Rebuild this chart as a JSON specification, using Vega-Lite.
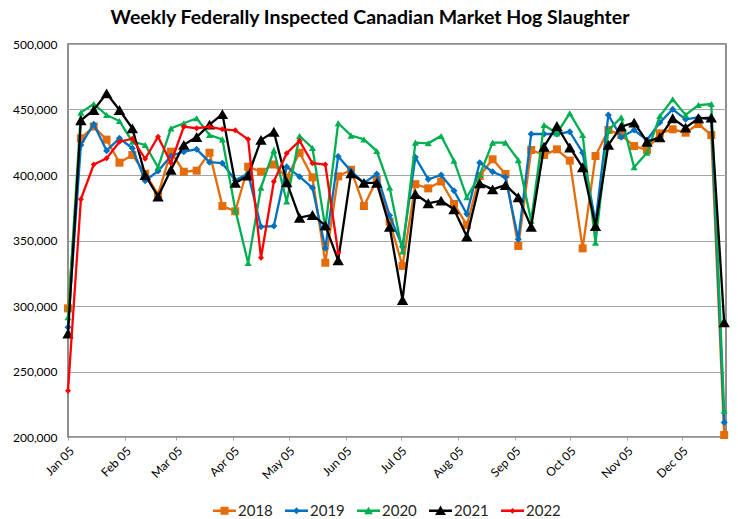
{
  "$schema": "https://vega.github.io/schema/vega-lite/v6.json",
  "width": 658,
  "height": 393,
  "autosize": {"type": "none"},
  "padding": {"left": 68, "top": 44, "right": 12, "bottom": 82},
  "background": "white",
  "title": {"text": "Weekly Federally Inspected Canadian Market Hog Slaughter", "font": "Lato", "fontSize": 19.5, "fontWeight": "bold", "color": "#000000", "anchor": "middle", "offset": 10, "dx": -27},
  "config": {"view": {"stroke": "#6b6b6b", "strokeWidth": 1.5}},
  "data": {"values": [
    {"week":"2019-01-05","year":"2018","hogs":298200},{"week":"2019-01-12","year":"2018","hogs":428000},{"week":"2019-01-19","year":"2018","hogs":437000},{"week":"2019-01-26","year":"2018","hogs":427000},{"week":"2019-02-02","year":"2018","hogs":409400},{"week":"2019-02-09","year":"2018","hogs":415300},{"week":"2019-02-16","year":"2018","hogs":401000},{"week":"2019-02-23","year":"2018","hogs":385000},{"week":"2019-03-02","year":"2018","hogs":417800},{"week":"2019-03-09","year":"2018","hogs":402500},{"week":"2019-03-16","year":"2018","hogs":403300},{"week":"2019-03-23","year":"2018","hogs":417000},{"week":"2019-03-30","year":"2018","hogs":376300},{"week":"2019-04-06","year":"2018","hogs":372300},{"week":"2019-04-13","year":"2018","hogs":406300},{"week":"2019-04-20","year":"2018","hogs":402500},{"week":"2019-04-27","year":"2018","hogs":408000},{"week":"2019-05-04","year":"2018","hogs":398000},{"week":"2019-05-11","year":"2018","hogs":417000},{"week":"2019-05-18","year":"2018","hogs":398200},{"week":"2019-05-25","year":"2018","hogs":333000},{"week":"2019-06-01","year":"2018","hogs":399000},{"week":"2019-06-08","year":"2018","hogs":404000},{"week":"2019-06-15","year":"2018","hogs":376300},{"week":"2019-06-22","year":"2018","hogs":396200},{"week":"2019-06-29","year":"2018","hogs":364400},{"week":"2019-07-06","year":"2018","hogs":330600},{"week":"2019-07-13","year":"2018","hogs":393000},{"week":"2019-07-20","year":"2018","hogs":389800},{"week":"2019-07-27","year":"2018","hogs":395000},{"week":"2019-08-03","year":"2018","hogs":377900},{"week":"2019-08-10","year":"2018","hogs":361800},{"week":"2019-08-17","year":"2018","hogs":399200},{"week":"2019-08-24","year":"2018","hogs":412000},{"week":"2019-08-31","year":"2018","hogs":400800},{"week":"2019-09-07","year":"2018","hogs":345800},{"week":"2019-09-14","year":"2018","hogs":419100},{"week":"2019-09-21","year":"2018","hogs":415300},{"week":"2019-09-28","year":"2018","hogs":419600},{"week":"2019-10-05","year":"2018","hogs":411000},{"week":"2019-10-12","year":"2018","hogs":344000},{"week":"2019-10-19","year":"2018","hogs":414500},{"week":"2019-10-26","year":"2018","hogs":434300},{"week":"2019-11-02","year":"2018","hogs":430500},{"week":"2019-11-09","year":"2018","hogs":422100},{"week":"2019-11-16","year":"2018","hogs":419100},{"week":"2019-11-23","year":"2018","hogs":431800},{"week":"2019-11-30","year":"2018","hogs":434900},{"week":"2019-12-07","year":"2018","hogs":432300},{"week":"2019-12-14","year":"2018","hogs":438900},{"week":"2019-12-21","year":"2018","hogs":430500},{"week":"2019-12-28","year":"2018","hogs":201500},
    {"week":"2019-01-05","year":"2019","hogs":283700},{"week":"2019-01-12","year":"2019","hogs":422900},{"week":"2019-01-19","year":"2019","hogs":438800},{"week":"2019-01-26","year":"2019","hogs":418600},{"week":"2019-02-02","year":"2019","hogs":428000},{"week":"2019-02-09","year":"2019","hogs":420400},{"week":"2019-02-16","year":"2019","hogs":395700},{"week":"2019-02-23","year":"2019","hogs":403000},{"week":"2019-03-02","year":"2019","hogs":414500},{"week":"2019-03-09","year":"2019","hogs":417800},{"week":"2019-03-16","year":"2019","hogs":419600},{"week":"2019-03-23","year":"2019","hogs":409800},{"week":"2019-03-30","year":"2019","hogs":409000},{"week":"2019-04-06","year":"2019","hogs":396000},{"week":"2019-04-13","year":"2019","hogs":401000},{"week":"2019-04-20","year":"2019","hogs":360500},{"week":"2019-04-27","year":"2019","hogs":361000},{"week":"2019-05-04","year":"2019","hogs":406300},{"week":"2019-05-11","year":"2019","hogs":398700},{"week":"2019-05-18","year":"2019","hogs":390200},{"week":"2019-05-25","year":"2019","hogs":344000},{"week":"2019-06-01","year":"2019","hogs":414200},{"week":"2019-06-08","year":"2019","hogs":403000},{"week":"2019-06-15","year":"2019","hogs":394000},{"week":"2019-06-22","year":"2019","hogs":400800},{"week":"2019-06-29","year":"2019","hogs":369000},{"week":"2019-07-06","year":"2019","hogs":345300},{"week":"2019-07-13","year":"2019","hogs":413500},{"week":"2019-07-20","year":"2019","hogs":396700},{"week":"2019-07-27","year":"2019","hogs":400000},{"week":"2019-08-03","year":"2019","hogs":388000},{"week":"2019-08-10","year":"2019","hogs":370200},{"week":"2019-08-17","year":"2019","hogs":409400},{"week":"2019-08-24","year":"2019","hogs":402500},{"week":"2019-08-31","year":"2019","hogs":398200},{"week":"2019-09-07","year":"2019","hogs":350900},{"week":"2019-09-14","year":"2019","hogs":431300},{"week":"2019-09-21","year":"2019","hogs":431300},{"week":"2019-09-28","year":"2019","hogs":431300},{"week":"2019-10-05","year":"2019","hogs":433000},{"week":"2019-10-12","year":"2019","hogs":417000},{"week":"2019-10-19","year":"2019","hogs":364000},{"week":"2019-10-26","year":"2019","hogs":445800},{"week":"2019-11-02","year":"2019","hogs":428800},{"week":"2019-11-09","year":"2019","hogs":434300},{"week":"2019-11-16","year":"2019","hogs":426700},{"week":"2019-11-23","year":"2019","hogs":440000},{"week":"2019-11-30","year":"2019","hogs":450200},{"week":"2019-12-07","year":"2019","hogs":442500},{"week":"2019-12-14","year":"2019","hogs":444000},{"week":"2019-12-21","year":"2019","hogs":442000},{"week":"2019-12-28","year":"2019","hogs":211000},
    {"week":"2019-01-05","year":"2020","hogs":291400},{"week":"2019-01-12","year":"2020","hogs":447600},{"week":"2019-01-19","year":"2020","hogs":454200},{"week":"2019-01-26","year":"2020","hogs":445800},{"week":"2019-02-02","year":"2020","hogs":441200},{"week":"2019-02-09","year":"2020","hogs":425400},{"week":"2019-02-16","year":"2020","hogs":422900},{"week":"2019-02-23","year":"2020","hogs":405900},{"week":"2019-03-02","year":"2020","hogs":435600},{"week":"2019-03-09","year":"2020","hogs":439500},{"week":"2019-03-16","year":"2020","hogs":443300},{"week":"2019-03-23","year":"2020","hogs":430500},{"week":"2019-03-30","year":"2020","hogs":427200},{"week":"2019-04-06","year":"2020","hogs":373600},{"week":"2019-04-13","year":"2020","hogs":332800},{"week":"2019-04-20","year":"2020","hogs":390400},{"week":"2019-04-27","year":"2020","hogs":418800},{"week":"2019-05-04","year":"2020","hogs":379800},{"week":"2019-05-11","year":"2020","hogs":429800},{"week":"2019-05-18","year":"2020","hogs":420600},{"week":"2019-05-25","year":"2020","hogs":359900},{"week":"2019-06-01","year":"2020","hogs":439500},{"week":"2019-06-08","year":"2020","hogs":430100},{"week":"2019-06-15","year":"2020","hogs":427200},{"week":"2019-06-22","year":"2020","hogs":418300},{"week":"2019-06-29","year":"2020","hogs":390500},{"week":"2019-07-06","year":"2020","hogs":341600},{"week":"2019-07-13","year":"2020","hogs":424700},{"week":"2019-07-20","year":"2020","hogs":424200},{"week":"2019-07-27","year":"2020","hogs":429800},{"week":"2019-08-03","year":"2020","hogs":410900},{"week":"2019-08-10","year":"2020","hogs":383000},{"week":"2019-08-17","year":"2020","hogs":400000},{"week":"2019-08-24","year":"2020","hogs":424700},{"week":"2019-08-31","year":"2020","hogs":424700},{"week":"2019-09-07","year":"2020","hogs":411400},{"week":"2019-09-14","year":"2020","hogs":365100},{"week":"2019-09-21","year":"2020","hogs":438200},{"week":"2019-09-28","year":"2020","hogs":431800},{"week":"2019-10-05","year":"2020","hogs":447100},{"week":"2019-10-12","year":"2020","hogs":430500},{"week":"2019-10-19","year":"2020","hogs":348400},{"week":"2019-10-26","year":"2020","hogs":434300},{"week":"2019-11-02","year":"2020","hogs":444000},{"week":"2019-11-09","year":"2020","hogs":405900},{"week":"2019-11-16","year":"2020","hogs":417000},{"week":"2019-11-23","year":"2020","hogs":445000},{"week":"2019-11-30","year":"2020","hogs":457800},{"week":"2019-12-07","year":"2020","hogs":445800},{"week":"2019-12-14","year":"2020","hogs":453400},{"week":"2019-12-21","year":"2020","hogs":454200},{"week":"2019-12-28","year":"2020","hogs":220000},
    {"week":"2019-01-05","year":"2021","hogs":279000},{"week":"2019-01-12","year":"2021","hogs":441800},{"week":"2019-01-19","year":"2021","hogs":449600},{"week":"2019-01-26","year":"2021","hogs":462300},{"week":"2019-02-02","year":"2021","hogs":449600},{"week":"2019-02-09","year":"2021","hogs":435600},{"week":"2019-02-16","year":"2021","hogs":400000},{"week":"2019-02-23","year":"2021","hogs":383500},{"week":"2019-03-02","year":"2021","hogs":404000},{"week":"2019-03-09","year":"2021","hogs":423000},{"week":"2019-03-16","year":"2021","hogs":429000},{"week":"2019-03-23","year":"2021","hogs":438500},{"week":"2019-03-30","year":"2021","hogs":446500},{"week":"2019-04-06","year":"2021","hogs":394000},{"week":"2019-04-13","year":"2021","hogs":399500},{"week":"2019-04-20","year":"2021","hogs":426800},{"week":"2019-04-27","year":"2021","hogs":433000},{"week":"2019-05-04","year":"2021","hogs":394500},{"week":"2019-05-11","year":"2021","hogs":367400},{"week":"2019-05-18","year":"2021","hogs":369500},{"week":"2019-05-25","year":"2021","hogs":361500},{"week":"2019-06-01","year":"2021","hogs":334800},{"week":"2019-06-08","year":"2021","hogs":401200},{"week":"2019-06-15","year":"2021","hogs":394000},{"week":"2019-06-22","year":"2021","hogs":394000},{"week":"2019-06-29","year":"2021","hogs":360500},{"week":"2019-07-06","year":"2021","hogs":304600},{"week":"2019-07-13","year":"2021","hogs":385500},{"week":"2019-07-20","year":"2021","hogs":378400},{"week":"2019-07-27","year":"2021","hogs":380400},{"week":"2019-08-03","year":"2021","hogs":373800},{"week":"2019-08-10","year":"2021","hogs":353000},{"week":"2019-08-17","year":"2021","hogs":393600},{"week":"2019-08-24","year":"2021","hogs":389000},{"week":"2019-08-31","year":"2021","hogs":392400},{"week":"2019-09-07","year":"2021","hogs":383000},{"week":"2019-09-14","year":"2021","hogs":360500},{"week":"2019-09-21","year":"2021","hogs":421600},{"week":"2019-09-28","year":"2021","hogs":437400},{"week":"2019-10-05","year":"2021","hogs":421000},{"week":"2019-10-12","year":"2021","hogs":405900},{"week":"2019-10-19","year":"2021","hogs":361000},{"week":"2019-10-26","year":"2021","hogs":423000},{"week":"2019-11-02","year":"2021","hogs":436900},{"week":"2019-11-09","year":"2021","hogs":440000},{"week":"2019-11-16","year":"2021","hogs":425400},{"week":"2019-11-23","year":"2021","hogs":428800},{"week":"2019-11-30","year":"2021","hogs":443300},{"week":"2019-12-07","year":"2021","hogs":436200},{"week":"2019-12-14","year":"2021","hogs":443300},{"week":"2019-12-21","year":"2021","hogs":443800},{"week":"2019-12-28","year":"2021","hogs":287600},
    {"week":"2019-01-05","year":"2022","hogs":235400},{"week":"2019-01-12","year":"2022","hogs":381400},{"week":"2019-01-19","year":"2022","hogs":408000},{"week":"2019-01-26","year":"2022","hogs":412700},{"week":"2019-02-02","year":"2022","hogs":425400},{"week":"2019-02-09","year":"2022","hogs":427700},{"week":"2019-02-16","year":"2022","hogs":412400},{"week":"2019-02-23","year":"2022","hogs":429200},{"week":"2019-03-02","year":"2022","hogs":409200},{"week":"2019-03-09","year":"2022","hogs":436900},{"week":"2019-03-16","year":"2022","hogs":435700},{"week":"2019-03-23","year":"2022","hogs":436900},{"week":"2019-03-30","year":"2022","hogs":434900},{"week":"2019-04-06","year":"2022","hogs":434100},{"week":"2019-04-13","year":"2022","hogs":427200},{"week":"2019-04-20","year":"2022","hogs":336800},{"week":"2019-04-27","year":"2022","hogs":395000},{"week":"2019-05-04","year":"2022","hogs":416600},{"week":"2019-05-11","year":"2022","hogs":426100},{"week":"2019-05-18","year":"2022","hogs":409000},{"week":"2019-05-25","year":"2022","hogs":408000},{"week":"2019-06-01","year":"2022","hogs":340700}
  ]},
  "encoding": {
    "x": {
      "field": "week", "type": "temporal",
      "scale": {"type": "utc", "domain": [{"year": 2019, "month": 1, "date": 5, "utc": true}, {"year": 2019, "month": 12, "date": 29, "utc": true}]},
      "axis": {
        "title": null, "labelExpr": "utcFormat(datum.value, '%b %d')", "labelAngle": -45,
        "values": [
          {"year": 2019, "month": 1, "date": 5, "utc": true}, {"year": 2019, "month": 2, "date": 5, "utc": true},
          {"year": 2019, "month": 3, "date": 5, "utc": true}, {"year": 2019, "month": 4, "date": 5, "utc": true},
          {"year": 2019, "month": 5, "date": 5, "utc": true}, {"year": 2019, "month": 6, "date": 5, "utc": true},
          {"year": 2019, "month": 7, "date": 5, "utc": true}, {"year": 2019, "month": 8, "date": 5, "utc": true},
          {"year": 2019, "month": 9, "date": 5, "utc": true}, {"year": 2019, "month": 10, "date": 5, "utc": true},
          {"year": 2019, "month": 11, "date": 5, "utc": true}, {"year": 2019, "month": 12, "date": 5, "utc": true}
        ],
        "grid": false, "domain": false, "ticks": true, "tickSize": 3, "tickColor": "#a0a0a0",
        "labelFont": "Lato", "labelFontSize": 12, "labelColor": "#000000", "labelPadding": 5, "labelOverlap": false, "labelFlush": false
      }
    },
    "y": {
      "field": "hogs", "type": "quantitative",
      "scale": {"domain": [200000, 500000], "nice": false, "zero": false},
      "axis": {
        "title": null, "labelExpr": "format(datum.value, ',')", "values": [200000, 250000, 300000, 350000, 400000, 450000, 500000],
        "grid": true, "gridColor": "#a6a6a6", "gridWidth": 1.2, "domain": false, "ticks": false, "tickSize": 0,
        "labelFont": "Lato", "labelFontSize": 12, "labelColor": "#000000", "labelPadding": 11
      }
    },
    "color": {
      "field": "year", "type": "nominal",
      "scale": {"domain": ["2018", "2019", "2020", "2021", "2022"], "range": ["#e46c0a", "#0070c0", "#00b050", "#000000", "#ff0000"]},
      "legend": {
        "orient": "none", "legendX": 145, "legendY": 455, "direction": "horizontal", "title": null,
        "labelFont": "Lato", "labelFontSize": 15, "labelColor": "#262626", "labelOffset": 2,
        "symbolSize": 529, "columnPadding": 12, "padding": 0,
        "encode": {
          "symbols": {
            "update": {
              "shape": {"signal": "datum.value === '2018' ? 'M-1,-0.1H1V0.1H-1Z M-0.35,-0.35H0.35V0.35H-0.35Z' : datum.value === '2019' ? 'M-1,-0.1H1V0.1H-1Z M0,-0.3L0.3,0L0,0.3L-0.3,0Z' : datum.value === '2020' ? 'M-1,-0.1H1V0.1H-1Z M0,-0.35L0.38,0.3H-0.38Z' : datum.value === '2021' ? 'M-1,-0.1H1V0.1H-1Z M0,-0.45L0.47,0.38H-0.47Z' : 'M-1,-0.1H1V0.1H-1Z M0,-0.25L0.25,0L0,0.25L-0.25,0Z'"},
              "size": {"value": 529},
              "fill": {"scale": "color", "field": "value"},
              "opacity": {"value": 1},
              "fillOpacity": {"value": 1},
              "strokeWidth": {"value": 0}
            }
          }
        }
      }
    }
  },
  "layer": [
    {"transform": [{"filter": "datum.year === '2018'"}], "mark": {"type": "line", "strokeWidth": 2.3, "point": {"shape": "square", "size": 64, "filled": true, "opacity": 1}}, "encoding": {}},
    {"transform": [{"filter": "datum.year === '2019'"}], "mark": {"type": "line", "strokeWidth": 2.3, "point": {"shape": "diamond", "size": 49, "filled": true, "opacity": 1}}, "encoding": {}},
    {"transform": [{"filter": "datum.year === '2020'"}], "mark": {"type": "line", "strokeWidth": 2.3, "point": {"shape": "triangle-up", "size": 50, "filled": true, "opacity": 1}}, "encoding": {}},
    {"transform": [{"filter": "datum.year === '2021'"}], "mark": {"type": "line", "strokeWidth": 2.3, "point": {"shape": "triangle-up", "size": 130, "filled": true, "opacity": 1}}, "encoding": {}},
    {"transform": [{"filter": "datum.year === '2022'"}], "mark": {"type": "line", "strokeWidth": 2.3, "point": {"shape": "diamond", "size": 36, "filled": true, "opacity": 1}}, "encoding": {}}
  ]
}
